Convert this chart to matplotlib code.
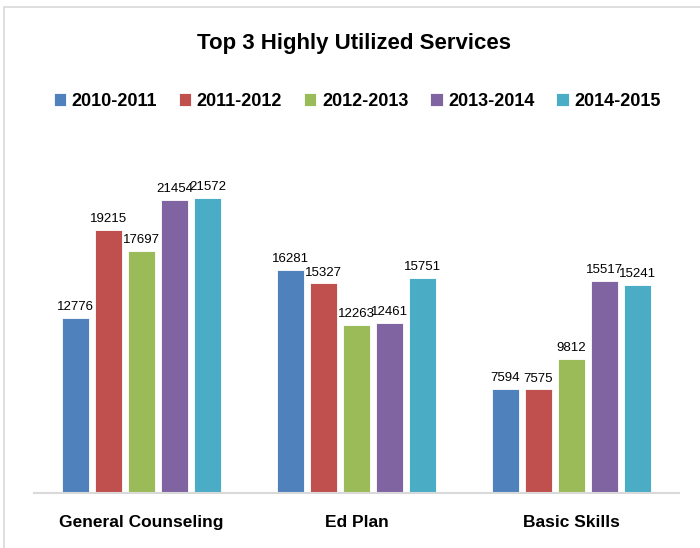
import numpy as np
import matplotlib.pyplot as plt
from matplotlib.patches import Rectangle

categories = ['General Counseling', 'Ed Plan', 'Basic Skills']
years = ['2010-2011', '2011-2012', '2012-2013', '2013-2014', '2014-2015']
v_2010 = [12776, 16281, 7594]
v_2011 = [19215, 15327, 7575]
v_2012 = [17697, 12263, 9812]
v_2013 = [21454, 12461, 15517]
v_2014 = [21572, 15751, 15241]
series = [v_2010, v_2011, v_2012, v_2013, v_2014]
colors = ['#4F81BD', '#C0504D', '#9BBB59', '#8064A2', '#4BACC6']

plt.rcParams['font.family'] = ['Liberation Sans', 'DejaVu Sans']

W, H = 700, 548
fig = plt.figure(figsize=(W / 100, H / 100), dpi=100)

# light frame around the chart, like the excel chart area border
fig.patches.append(Rectangle((4 / W, -0.1), 1.2, 1 - 7 / H + 0.1, transform=fig.transFigure,
                             fill=False, edgecolor='#d9d9d9', linewidth=1.2))

ax = fig.add_axes([34 / W, 1 - 493 / H, 645 / W, (493 - 151) / H])

x = np.arange(len(categories))
step = 0.1535
width = 0.126
for i, (vals, c) in enumerate(zip(series, colors)):
    xs = x + (i - 2) * step
    ax.bar(xs, vals, width, color=c, edgecolor='white', linewidth=0.6, label=years[i])
    for xi, v in zip(xs, vals):
        ax.text(xi, v + 350, str(v), ha='center', va='bottom', fontsize=9.5)

ax.set_xlim(-0.5, 2.5)
ax.set_ylim(0, 25000)
ax.set_yticks([])
ax.set_xticks(x)
ax.set_xticklabels(categories, fontsize=12.5, fontweight='bold')
ax.tick_params(axis='x', length=0, pad=16)
for s in ['top', 'right', 'left']:
    ax.spines[s].set_visible(False)
ax.spines['bottom'].set_color('#d9d9d9')
ax.spines['bottom'].set_linewidth(1.5)

fig.text(354 / W, 1 - 44 / H, 'Top 3 Highly Utilized Services', ha='center', va='center',
         fontsize=16, fontweight='bold')

fig.legend(loc='center', bbox_to_anchor=(357 / W, 1 - 101 / H), ncol=5, frameon=False,
           handlelength=0.7, handleheight=0.7, handletextpad=0.3, columnspacing=1.2,
           prop={'weight': 'bold', 'size': 13})

fig.savefig('out.png', dpi=100)
